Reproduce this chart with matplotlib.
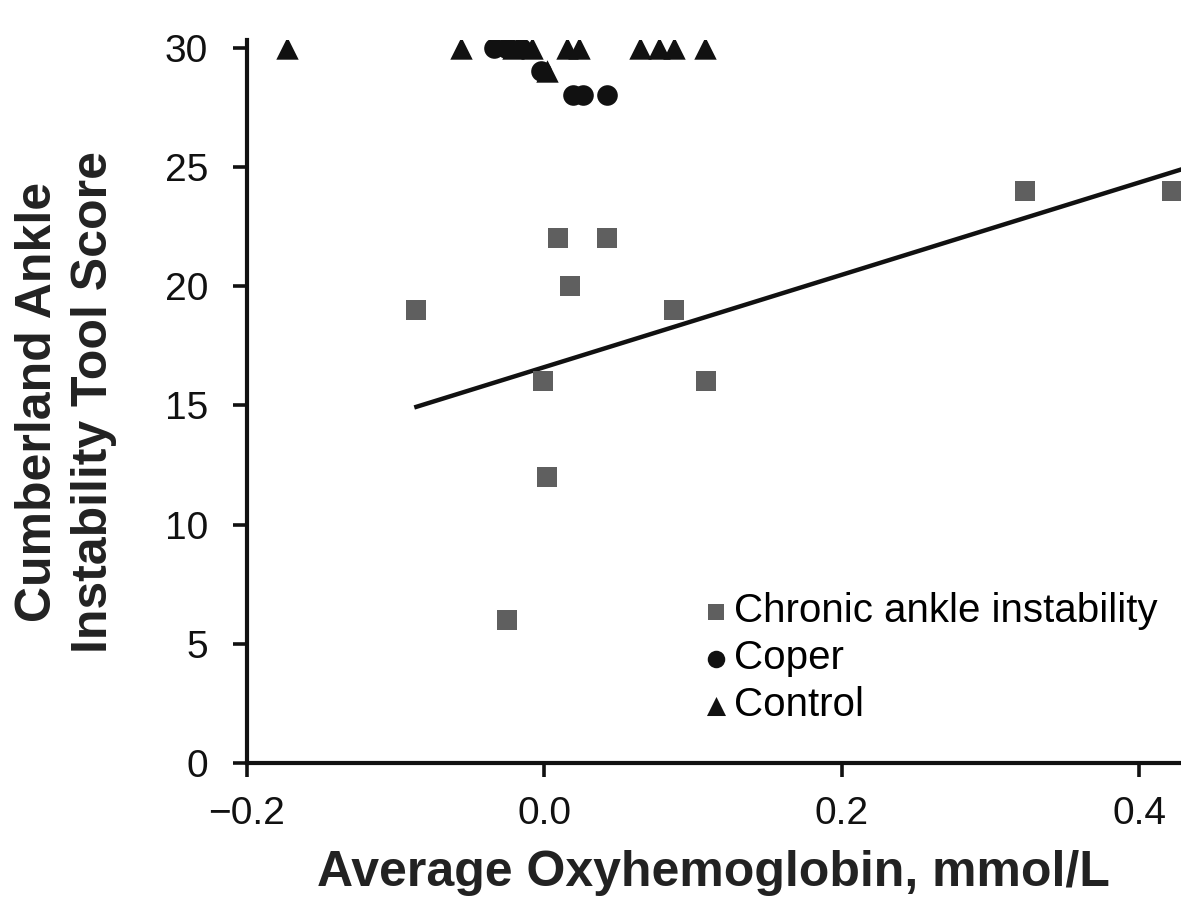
"""Scatter of CAIT score vs average oxyhemoglobin with CAI regression line."""

import numpy as np
import matplotlib

matplotlib.use("Agg")
import matplotlib.pyplot as plt

plt.rcParams["font.family"] = ["Liberation Sans", "DejaVu Sans"]

# Chronic ankle instability
cai_x = [-0.086, 0.009, 0.042, 0.017, 0.087, -0.001, 0.109, 0.002, -0.025, 0.323, 0.422]
cai_y = [19, 22, 22, 20, 19, 16, 16, 12, 6, 24, 24]

# Coper
coper_x = [-0.034, -0.026, -0.016, -0.002, 0.019, 0.026, 0.042]
coper_y = [30, 30, 30, 29, 28, 28, 28]

# Control
control_x = [-0.173, -0.056, -0.021, -0.008, 0.015, 0.023, 0.064, 0.077, 0.087, 0.108, 0.002]
control_y = [30, 30, 30, 30, 30, 30, 30, 30, 30, 30, 29]

x_ticks = [-0.2, 0.0, 0.2, 0.4]
x_tick_labels = ["\u22120.2", "0.0", "0.2", "0.4"]
y_ticks = [0, 5, 10, 15, 20, 25, 30]


def main() -> None:
    fig = plt.figure(figsize=(11.81, 9.09), dpi=100)
    ax = fig.add_axes([0.209, 0.1606, 0.791, 0.795])

    ax.scatter(cai_x, cai_y, marker="s", s=190, color="#5f5f5f", linewidths=0,
               label="Chronic ankle instability", zorder=3)
    ax.scatter(coper_x, coper_y, marker="o", s=220, color="#111111", linewidths=0,
               label="Coper", zorder=3)
    ax.scatter(control_x, control_y, marker="^", s=260, color="#111111", linewidths=0,
               label="Control", zorder=3)

    # Linear fit through the CAI group
    slope, intercept = np.polyfit(cai_x, cai_y, 1)
    fit_x = np.array([min(cai_x), 0.428])
    ax.plot(fit_x, slope * fit_x + intercept, color="#111111", lw=3.2, zorder=2)

    ax.set_xlim(-0.2, 0.428)
    ax.set_ylim(0, 30.3)
    ax.set_xticks(x_ticks)
    ax.set_xticklabels(x_tick_labels)
    ax.set_yticks(y_ticks)

    for side in ("top", "right"):
        ax.spines[side].set_visible(False)
    for side in ("left", "bottom"):
        ax.spines[side].set_linewidth(3.0)
        ax.spines[side].set_color("#111111")

    ax.tick_params(axis="both", direction="out", length=10, width=2.6,
                   labelsize=28, colors="#111111")
    ax.tick_params(axis="x", pad=14)
    ax.tick_params(axis="y", pad=18)

    ax.set_xlabel("Average Oxyhemoglobin, mmol/L", fontsize=36, fontweight="bold",
                  color="#222222", labelpad=13)
    ax.set_ylabel("Cumberland Ankle\nInstability Tool Score", fontsize=36,
                  fontweight="bold", color="#222222", labelpad=34, linespacing=1.3)

    ax.legend(loc="upper left", bbox_to_anchor=(0.463, 0.264), frameon=False,
              fontsize=29, handletextpad=0.05, labelspacing=0.22, borderpad=0,
              handlelength=0.8, markerscale=0.85)

    fig.savefig("out.png", dpi=100)
    plt.close(fig)


if __name__ == "__main__":
    main()
